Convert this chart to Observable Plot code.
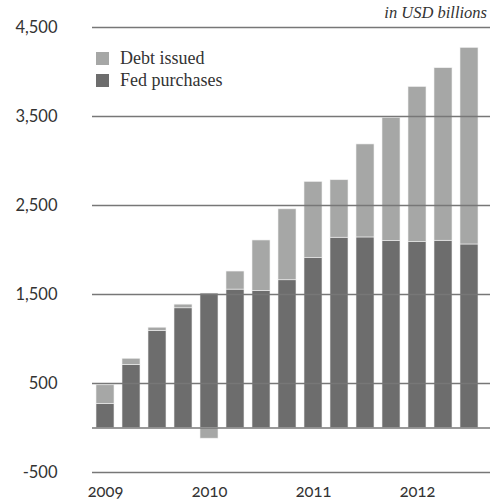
<!DOCTYPE html>
<html>
<head>
<meta charset="utf-8">
<script src="https://cdn.jsdelivr.net/npm/d3@7"></script>
<script src="https://cdn.jsdelivr.net/npm/@observablehq/plot@0.6"></script>
<style>
  html, body { margin: 0; padding: 0; background: #fff; }
  #wrap { position: relative; width: 490px; height: 502px; }
  #unit { position: absolute; right: 3px; top: 3px; font-family: "Liberation Serif", serif; font-style: italic; font-size: 16.5px; color: #333; }
  #legend { position: absolute; left: 96px; top: 47px; font-family: "Liberation Serif", serif; font-size: 18px; color: #333; }
  #legend .row { display: flex; align-items: center; height: 22px; }
  #legend .sw { width: 13px; height: 13px; margin-right: 11px; }
</style>
</head>
<body>
<div id="wrap">
  <div id="chart"></div>
  <div id="unit">in USD billions</div>
  <div id="legend"></div>
</div>
<script>
const quarters = ["2009Q1","2009Q2","2009Q3","2009Q4","2010Q1","2010Q2","2010Q3","2010Q4","2011Q1","2011Q2","2011Q3","2011Q4","2012Q1","2012Q2","2012Q3"];
const debtIssued = [480, 778, 1127, 1386, 1390, 1758, 2107, 2457, 2765, 2784, 3186, 3482, 3832, 4043, 4271];
const fedPurchases = [272, 710, 1090, 1345, 1510, 1555, 1540, 1660, 1908, 2138, 2141, 2100, 2088, 2104, 2062];
const seriesNames = ["Debt issued", "Fed purchases"];
const seriesColors = ["#a6a7a6", "#6d6d6d"];
const yTicks = [-500, 500, 1500, 2500, 3500, 4500];
const yearTicks = ["2009Q1","2010Q1","2011Q1","2012Q1"];
const yearLabels = ["2009","2010","2011","2012"];

const rows = [];
quarters.forEach((q, i) => {
  rows.push({q, series: "Fed purchases", value: fedPurchases[i]});
  rows.push({q, series: "Debt issued", value: debtIssued[i] - fedPurchases[i]});
});

const chart = Plot.plot({
  width: 490,
  height: 502,
  marginLeft: 92,
  marginRight: 8,
  marginTop: 27,
  marginBottom: 30,
  style: {fontFamily: "Lato, sans-serif", fontSize: "16.5px", color: "#333", fontVariantNumeric: "oldstyle-nums"},
  x: {domain: quarters, paddingInner: 0.3, paddingOuter: 0.05, label: null, ticks: yearTicks,
      tickFormat: d => yearLabels[yearTicks.indexOf(d)], tickSize: 0, tickPadding: 13},
  y: {domain: [-500, 4500], ticks: yTicks, tickFormat: d => d3.format(",")(d).replace("\u2212", "-"), label: null, tickSize: 0, tickPadding: 35},
  color: {domain: seriesNames, range: seriesColors},
  marks: [
    Plot.barY(rows, {x: "q", y: "value", fill: "series", stroke: "#f2f2f2", strokeWidth: 0.6}),
    Plot.ruleY(yTicks.concat([0]), {stroke: "#777", strokeWidth: 1.3, insetRight: -8})
  ]
});
document.getElementById("chart").appendChild(chart);

const legend = document.getElementById("legend");
seriesNames.forEach((name, i) => {
  const row = document.createElement("div");
  row.className = "row";
  const sw = document.createElement("div");
  sw.className = "sw";
  sw.style.background = seriesColors[i];
  const label = document.createElement("span");
  label.textContent = name;
  row.appendChild(sw);
  row.appendChild(label);
  legend.appendChild(row);
});
</script>
</body>
</html>
